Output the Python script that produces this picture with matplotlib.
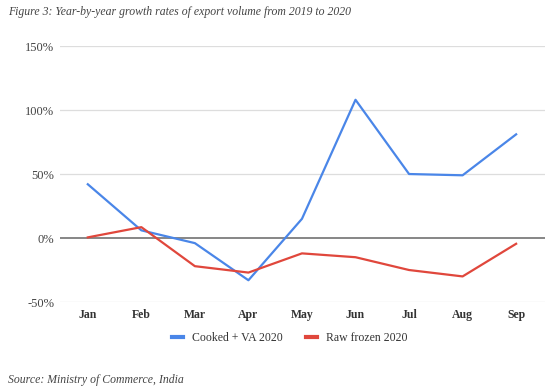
import matplotlib
matplotlib.use("Agg")
import matplotlib.pyplot as plt
from matplotlib.lines import Line2D

months = ["Jan", "Feb", "Mar", "Apr", "May", "Jun", "Jul", "Aug", "Sep"]
cooked_va = [42, 6, -4, -33, 15, 108, 50, 49, 81]
raw_frozen = [0.5, 8.5, -22, -27, -12, -15, -25, -30, -4.5]
yticks = [-50, 0, 50, 100, 150]
ytick_labels = ["-50%", "0%", "50%", "100%", "150%"]

blue = "#4a86e8"
red = "#e0473c"
serif = ["Liberation Serif", "DejaVu Serif"]

fig = plt.figure(figsize=(5.5, 3.9), dpi=100)
ax = fig.add_axes([0.109, 0.2256, 0.882, 0.6564])

x = list(range(len(months)))
ax.plot(x, cooked_va, color=blue, lw=1.6, zorder=3)
ax.plot(x, raw_frozen, color=red, lw=1.6, zorder=3)

ax.set_xlim(-0.52, len(months) - 1 + 0.54)
ax.set_ylim(-50, 150)
ax.set_yticks(yticks)
ax.set_yticklabels(ytick_labels, fontfamily=serif, fontsize=9, color="#444444")
ax.set_xticks(x)
ax.set_xticklabels(months, fontfamily=serif, fontsize=8.5, color="#333333", fontweight="bold")
ax.tick_params(axis="both", length=0)
ax.tick_params(axis="y", pad=4)
ax.tick_params(axis="x", pad=5)
for y in yticks:
    if y == 0:
        ax.axhline(y, color="#666666", lw=1.1, zorder=2)
    else:
        ax.axhline(y, color="#dddddd", lw=0.9, zorder=1)
for s in ax.spines.values():
    s.set_visible(False)

handles = [Line2D([], [], color=blue, lw=3), Line2D([], [], color=red, lw=3)]
fig.legend(handles, ["Cooked + VA 2020", "Raw frozen 2020"], loc="center",
           bbox_to_anchor=(290 / 550, 1 - 338 / 390), ncol=2, frameon=False,
           prop={"family": serif, "size": 8.5}, handlelength=0.9, columnspacing=2.0,
           handletextpad=0.8, labelcolor="#333333")

fig.text(8 / 550, 1 - 12 / 390, "Figure 3: Year-by-year growth rates of export volume from 2019 to 2020",
         fontfamily=serif, fontstyle="italic", fontsize=8.5, color="#444444", va="center", ha="left")
fig.text(8 / 550, 1 - 380 / 390, "Source: Ministry of Commerce, India",
         fontfamily=serif, fontstyle="italic", fontsize=8.5, color="#444444", va="center", ha="left")

fig.savefig("out.png", dpi=100, facecolor="white")
